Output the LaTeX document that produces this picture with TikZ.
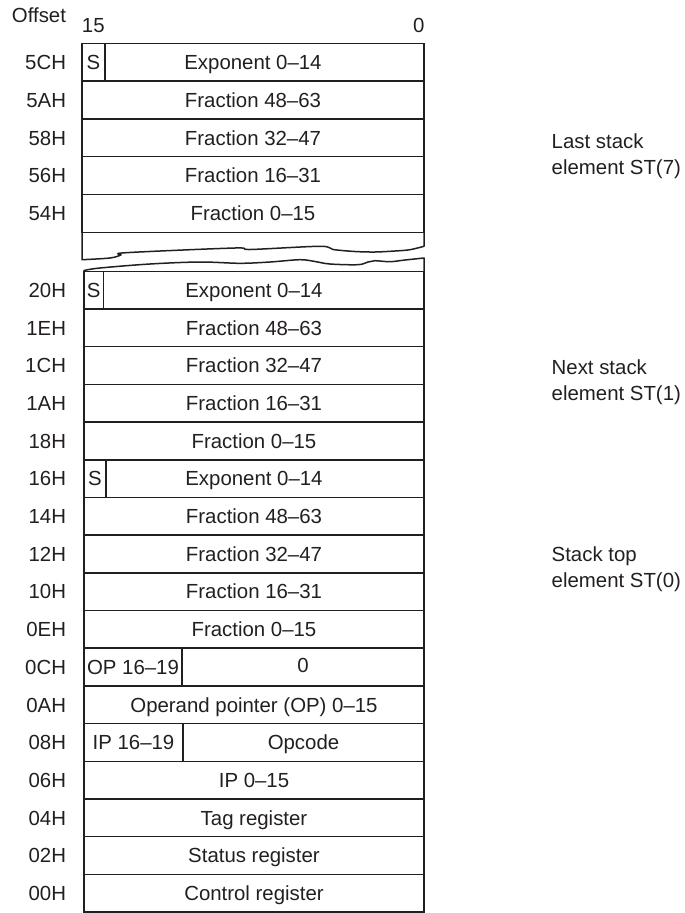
\documentclass[tikz,border=0pt]{standalone}
\usepackage{fontspec}
\setmainfont{Liberation Sans}
\definecolor{ink}{HTML}{231F20}
\begin{document}
\begin{tikzpicture}[x=1pt,y=-1pt,line width=1.5pt,draw=ink,
  every node/.style={font=\fontsize{20.4}{26}\selectfont,text=ink,inner sep=0pt,outer sep=0pt},
  cellbox/.style={draw=ink,rectangle,text height=14.6pt,text depth=0pt},
  offs/.style={anchor=east,text height=14.6pt,text depth=0pt},
  side/.style={anchor=north west,align=left}]
\useasboundingbox (0,0) rectangle (685,913);
% header
\node[offs] (offset) at (66,15) {Offset};
\node[text height=14.6pt,text depth=0pt] (b15) at (93.3,25) {15};
\node[text height=14.6pt,text depth=0pt] (b0) at (418.7,25) {0};
% top piece (ST(7))
\foreach \lab/\txt [count=\i from 0] in {5CH/{Exponent 0–14},5AH/{Fraction 48–63},58H/{Fraction 32–47},56H/{Fraction 16–31},54H/{Fraction 0–15}}{
  \node[cellbox,minimum width=342pt,minimum height=37.8pt] (t\i) at (253,{43.3+37.8*\i+18.9}) {\txt};
  \node[offs] (tl\i) at (66,{43.3+37.8*\i+18.9}) {\lab};
}
\node[cellbox,minimum width=23pt,minimum height=37.8pt] (ts) at (93.5,62.2) {S};
% break
\draw[line join=round] (82,232.3) -- plot[smooth,tension=0.55] coordinates {(82,259.7) (110,258) (121,255) (126,252.7) (235,248) (250,249.5) (320,246.3) (333,249.5) (355,251.5) (375,252) (395,251) (410,249.7) (424,246.3)} -- (424,232.3);
\draw[line join=round] (84,271.3) -- plot[smooth,tension=0.55] coordinates {(84,270.5) (100,268) (150,264) (200,262) (240,263.3) (270,262) (300,259.7) (315,261.5) (330,264) (358,264.7) (368,262) (375,260.7) (390,261.7) (405,260) (424,258)} -- (424,271.3);
% lower piece
\foreach \lab/\txt [count=\i from 0] in {20H/{Exponent 0–14},1EH/{Fraction 48–63},1CH/{Fraction 32–47},1AH/{Fraction 16–31},18H/{Fraction 0–15},16H/{Exponent 0–14},14H/{Fraction 48–63},12H/{Fraction 32–47},10H/{Fraction 16–31},0EH/{Fraction 0–15},0CH/{},0AH/{Operand pointer (OP) 0–15},08H/{},06H/{IP 0–15},04H/{Tag register},02H/{Status register},00H/{Control register}}{
  \node[cellbox,minimum width=340pt,minimum height=37.69pt] (r\i) at (254,{271.3+37.69*\i+18.845}) {\txt};
  \node[offs] (rl\i) at (66,{271.3+37.69*\i+18.845}) {\lab};
}
\node[cellbox,minimum width=19.3pt,minimum height=37.69pt] (s20) at (93.65,290.145) {S};
\node[cellbox,minimum width=22pt,minimum height=37.69pt] (s16) at (95,478.595) {S};
\node[cellbox,minimum width=98pt,minimum height=37.69pt] (op) at (133,667.045) {OP 16–19};
\node[cellbox,minimum width=242pt,minimum height=37.69pt,text depth=3pt] (opz) at (303,667.045) {0};
\node[cellbox,minimum width=99pt,minimum height=37.69pt,text depth=-3pt] (ip) at (133.5,742.425) {IP 16–19};
\node[cellbox,minimum width=241pt,minimum height=37.69pt,text depth=-3pt] (opc) at (303.5,742.425) {Opcode};
% side labels
\node[side] (st7) at (551.7,133.3) {Last stack\\element ST(7)};
\node[side] (st1) at (551.7,360) {Next stack\\element ST(1)};
\node[side] (st0) at (551.7,546.7) {Stack top\\element ST(0)};
\end{tikzpicture}
\end{document}
